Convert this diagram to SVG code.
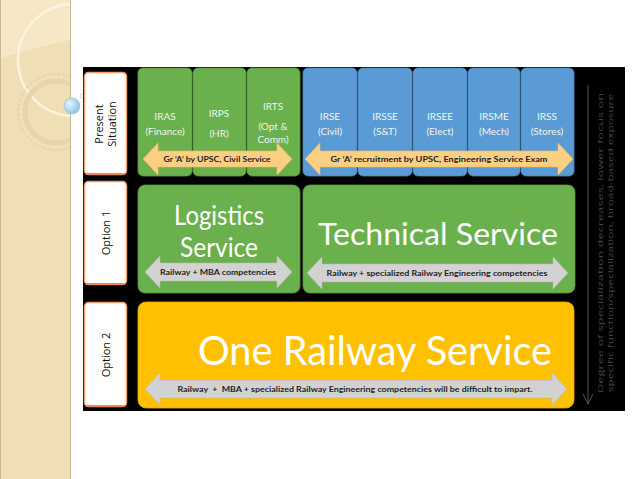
<svg xmlns="http://www.w3.org/2000/svg" width="638" height="479" viewBox="0 0 638 479">
<defs>
<style>
.lbl{fill:#ffffff;stroke:#f0a070;stroke-width:1.5}
.lblt{font-family:"Open Sans","DejaVu Sans",sans-serif;font-size:11px;fill:#111;text-anchor:middle}
.grn{fill:#6ab04c;stroke:#5a9a3e;stroke-width:0.8}
.blu{fill:#5b9bd5;stroke:#4a86bd;stroke-width:0.8}
.org{fill:#ffc000;stroke:#e8ad00;stroke-width:0.8}
.st{font-family:Lato,"Open Sans",sans-serif;font-size:10px;fill:#eef5ea;text-anchor:middle}
.big{font-family:Lato,"Open Sans",sans-serif;fill:#ffffff;text-anchor:middle}
.arrY{fill:#fcd083;stroke:#f0b860;stroke-width:0.6}
.arrG{fill:#d2d2d2;stroke:#b8b8b8;stroke-width:0.6}
.at{font-family:Lato,"Open Sans",sans-serif;font-size:8px;font-weight:bold;fill:#222;text-anchor:middle}
.side{font-family:"Open Sans",sans-serif;font-size:8px;fill:#454545;text-anchor:middle}
</style>
<radialGradient id="sph" cx="0.35" cy="0.35" r="0.7">
<stop offset="0" stop-color="#e4f4fc"/>
<stop offset="1" stop-color="#8cc2e0"/>
</radialGradient>
<clipPath id="strip"><rect x="0" y="0" width="70" height="479"/></clipPath>
<marker id="down" markerWidth="12" markerHeight="12" refX="10" refY="5" orient="auto" markerUnits="userSpaceOnUse">
<path d="M0,0 L10,5 L0,10" fill="none" stroke="#555" stroke-width="1"/>
</marker>
</defs>
<rect x="0" y="0" width="638" height="479" fill="#ffffff"/>
<!-- decorative strip -->
<g id="decor">
<rect x="0" y="0" width="70" height="479" fill="#f0dfb4"/>
<g clip-path="url(#strip)">
<path d="M0,0 L70,0 L70,40 Q35,48 0,58 Z" fill="#f6e8c6"/>
<circle cx="74" cy="60" r="56" fill="none" stroke="#fbf3de" stroke-width="2.5"/>
<circle cx="56" cy="112" r="38" fill="none" stroke="#dccba2" stroke-width="1" stroke-dasharray="3 2"/>
<circle cx="56" cy="112" r="31" fill="none" stroke="#e6d5ab" stroke-width="5"/>
</g>
<line x1="70.5" y1="0" x2="70.5" y2="479" stroke="#c9b994" stroke-width="1"/>
<line x1="0.5" y1="0" x2="0.5" y2="479" stroke="#c9b994" stroke-width="1"/>
<circle cx="72" cy="106" r="8" fill="url(#sph)" stroke="#8ab8d4" stroke-width="0.5"/>
<circle cx="82" cy="96" r="2" fill="none" stroke="#bbb" stroke-width="0.6"/>
</g>
<!-- black panel -->
<rect id="panel" x="83" y="67" width="542" height="344" fill="#000000"/>
<!-- row labels -->
<g id="lbl-present">
<rect class="lbl" x="84.5" y="72.5" width="42" height="102" rx="4"/>
<line x1="86" y1="174" x2="125" y2="174" stroke="#e8895a" stroke-width="2"/>
<text class="lblt" transform="translate(106,124) rotate(-90)"><tspan x="0" y="-3">Present</tspan><tspan x="0" y="10">Situation</tspan></text>
</g>
<g id="lbl-opt1">
<rect class="lbl" x="84.5" y="181.5" width="42" height="103" rx="4"/>
<line x1="86" y1="284" x2="125" y2="284" stroke="#e8895a" stroke-width="2"/>
<text class="lblt" transform="translate(106,233) rotate(-90)" y="4">Option 1</text>
</g>
<g id="lbl-opt2">
<rect class="lbl" x="84.5" y="302.5" width="42" height="104" rx="4"/>
<line x1="86" y1="406" x2="125" y2="406" stroke="#e8895a" stroke-width="2"/>
<text class="lblt" transform="translate(106,355) rotate(-90)" y="4">Option 2</text>
</g>
<!-- present situation services -->
<g id="iras"><rect class="grn" x="138" y="68" width="54" height="108" rx="5"/>
<text class="st" x="165" y="120">IRAS</text><text class="st" x="165" y="135">(Finance)</text></g>
<g id="irps"><rect class="grn" x="193" y="68" width="53" height="108" rx="5"/>
<text class="st" x="219" y="117">IRPS</text><text class="st" x="219" y="137">(HR)</text></g>
<g id="irts"><rect class="grn" x="247" y="68" width="53" height="108" rx="5"/>
<text class="st" x="273" y="110">IRTS</text><text class="st" x="273" y="130">(Opt &amp;</text><text class="st" x="273" y="143">Comm)</text></g>
<g id="irse"><rect class="blu" x="303" y="68" width="54" height="108" rx="5"/>
<text class="st" x="330" y="120">IRSE</text><text class="st" x="330" y="135">(Civil)</text></g>
<g id="irsse"><rect class="blu" x="358" y="68" width="54" height="108" rx="5"/>
<text class="st" x="385" y="120">IRSSE</text><text class="st" x="385" y="135">(S&amp;T)</text></g>
<g id="irsee"><rect class="blu" x="413" y="68" width="54" height="108" rx="5"/>
<text class="st" x="440" y="120">IRSEE</text><text class="st" x="440" y="135">(Elect)</text></g>
<g id="irsme"><rect class="blu" x="468" y="68" width="52" height="108" rx="5"/>
<text class="st" x="494" y="120">IRSME</text><text class="st" x="494" y="135">(Mech)</text></g>
<g id="irss"><rect class="blu" x="521" y="68" width="53" height="108" rx="5"/>
<text class="st" x="547" y="120">IRSS</text><text class="st" x="547" y="135">(Stores)</text></g>
<!-- option boxes -->
<g id="logistics"><rect class="grn" x="138" y="185" width="162" height="108" rx="7"/>
<text class="big" x="219" y="225" font-size="27" textLength="90" lengthAdjust="spacingAndGlyphs">Logistics</text>
<text class="big" x="219" y="257" font-size="27" textLength="78" lengthAdjust="spacingAndGlyphs">Service</text></g>
<g id="technical"><rect class="grn" x="303" y="185" width="272" height="108" rx="7"/>
<text class="big" x="438" y="245" font-size="31" textLength="240" lengthAdjust="spacingAndGlyphs">Technical Service</text></g>
<g id="oneRailway"><rect class="org" x="138" y="302" width="436" height="106" rx="8"/>
<text class="big" x="375" y="365" font-size="40" textLength="354" lengthAdjust="spacingAndGlyphs" fill="#fffbe8">One Railway Service</text></g>
<!-- connectors: double arrows -->
<g id="connectors">
<polygon class="arrY" points="143,159 158,143 158,151 277,151 277,143 292,159 277,175 277,167 158,167 158,175"/>
<text class="at" x="217" y="162" textLength="107" lengthAdjust="spacingAndGlyphs">Gr ‘A’ by UPSC, Civil Service</text>
<polygon class="arrY" points="305,159 320,143 320,151 558,151 558,143 573,159 558,175 558,167 320,167 320,175"/>
<text class="at" x="439" y="162" textLength="217" lengthAdjust="spacingAndGlyphs">Gr ‘A’ recruitment by UPSC, Engineering Service Exam</text>
<polygon class="arrG" points="145,272 160,256 160,263 277,263 277,256 292,272 277,288 277,281 160,281 160,288"/>
<text class="at" x="218" y="275" textLength="116" lengthAdjust="spacingAndGlyphs">Railway + MBA competencies</text>
<polygon class="arrG" points="307,273 322,257 322,264 553,264 553,257 568,273 553,289 553,282 322,282 322,289"/>
<text class="at" x="437" y="276" textLength="221" lengthAdjust="spacingAndGlyphs">Railway + specialized Railway Engineering competencies</text>
<polygon class="arrG" points="145,389 160,373 160,380 552,380 552,373 567,389 552,405 552,398 160,398 160,405"/>
<text class="at" x="355" y="392" textLength="355" lengthAdjust="spacingAndGlyphs" xml:space="preserve">Railway  +  MBA + specialized Railway Engineering competencies will be difficult to impart.</text>
<line x1="588" y1="85" x2="588" y2="404" stroke="#555" stroke-width="1" marker-end="url(#down)"/>
</g>
<g id="sideNote">
<text class="side" transform="translate(603,243) rotate(-90)" textLength="300" lengthAdjust="spacingAndGlyphs">Degree of specialization decreases, lower focus on</text>
<text class="side" transform="translate(613,243) rotate(-90)" textLength="298" lengthAdjust="spacingAndGlyphs">specific function/specialization, broad-based exposure</text>
</g>
</svg>
